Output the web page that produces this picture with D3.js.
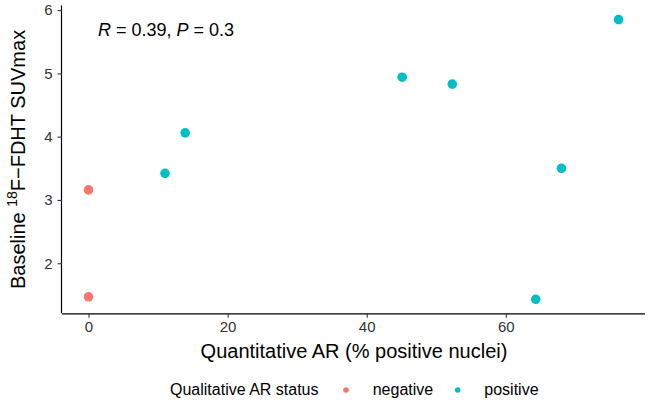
<!DOCTYPE html>
<html><head><meta charset="utf-8">
<script src="https://cdn.jsdelivr.net/npm/d3@7"></script>
<style>body{margin:0;background:#fff}text{font-family:"Liberation Sans",Arial,sans-serif}</style>
</head><body><svg id="c" width="650" height="403"></svg>
<script>
const quantAR = [0, 0, 11.0, 13.9, 45.1, 52.3, 64.3, 68.0, 76.2];
const suvMax = [3.16, 1.47, 3.42, 4.06, 4.94, 4.83, 1.43, 3.50, 5.85];
const status = ["negative","negative","positive","positive","positive","positive","positive","positive","positive"];
const statusLevels = ["negative","positive"];
const statusColors = ["#F8766D","#00BFC4"];
const xTicks = [0, 20, 40, 60];
const yTicks = [2, 3, 4, 5, 6];

const svg = d3.select("#c");
const L = 62, R = 645, T = 5.6, B = 313.3;
const xr = d3.extent(quantAR), yr = d3.extent(suvMax);
const xe = (xr[1]-xr[0])*0.05, ye = (yr[1]-yr[0])*0.05;
const x = d3.scaleLinear().domain([xr[0]-xe, xr[1]+xe]).range([L, R]);
const y = d3.scaleLinear().domain([yr[0]-ye, yr[1]+ye]).range([B, T]);
const color = d3.scaleOrdinal().domain(statusLevels).range(statusColors);

const xa = svg.append("g").attr("transform", `translate(0,${B})`)
  .call(d3.axisBottom(x).tickValues(xTicks).tickSize(4.5).tickPadding(4).tickFormat(d3.format("d")));
const ya = svg.append("g").attr("transform", `translate(${L},0)`)
  .call(d3.axisLeft(y).tickValues(yTicks).tickSize(4.5).tickPadding(5).tickFormat(d3.format("d")));
[xa, ya].forEach(a => {
  a.select(".domain").attr("stroke","#000").attr("stroke-width",1.2);
  a.selectAll(".tick line").attr("stroke","#333").attr("stroke-width",1.1);
  a.selectAll(".tick text").attr("fill","#333").style("font-size","15px");
});
xa.select(".domain").attr("d", `M${L},0.5H${R}`);
ya.select(".domain").attr("d", `M-0.5,${T}V${B}`);

svg.append("g").selectAll("circle").data(quantAR).join("circle")
  .attr("cx", (d,i) => x(d)).attr("cy", (d,i) => y(suvMax[i])).attr("r", 4.8)
  .attr("fill", (d,i) => color(status[i]));

// annotation
const ann = svg.append("text").attr("x", 98).attr("y", 36).style("font-size","18px").attr("fill","#000");
ann.append("tspan").style("font-style","italic").text("R");
ann.append("tspan").text(" = 0.39, ");
ann.append("tspan").style("font-style","italic").text("P");
ann.append("tspan").text(" = 0.3");

// axis titles
svg.append("text").attr("x", 354).attr("y", 358).attr("text-anchor","middle")
  .style("font-size","20px").text("Quantitative AR (% positive nuclei)");
const yt = svg.append("text").attr("transform", `translate(25,${(T+B)/2}) rotate(-90)`)
  .attr("text-anchor","middle").style("font-size","20px");
yt.append("tspan").text("Baseline ");
yt.append("tspan").attr("dy",-8).style("font-size","14px").text("18");
yt.append("tspan").attr("dy",8).text("F\u2212FDHT SUVmax");

// legend
const lg = svg.append("g");
lg.append("text").attr("x",170).attr("y",395).style("font-size","16px").text("Qualitative AR status");
const lx = [346, 457.7], tx = [372.7, 484.3];
statusLevels.forEach((s,i) => {
  lg.append("circle").attr("cx", lx[i]).attr("cy", 390).attr("r", 2.8).attr("fill", color(s));
  lg.append("text").attr("x", tx[i]).attr("y", 395).style("font-size","16px").text(s);
});
</script></body></html>
